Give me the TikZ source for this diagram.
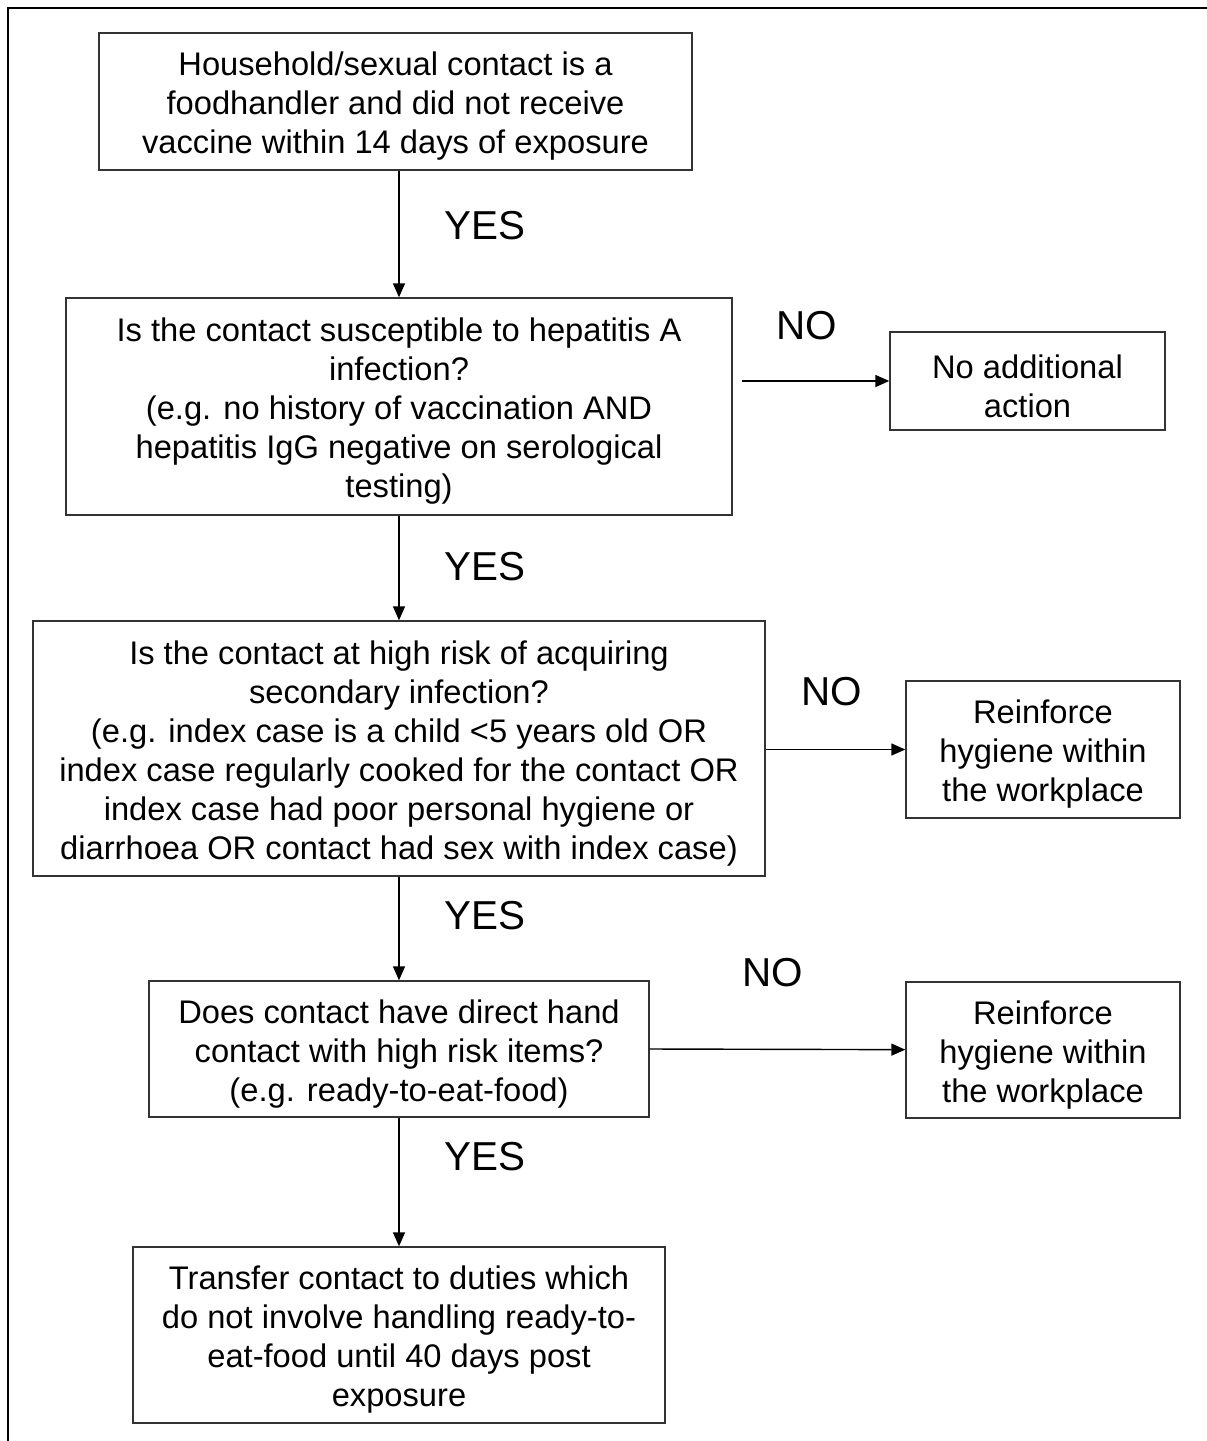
\documentclass[tikz,border=0pt]{standalone}
\usepackage{fontspec}
\setmainfont{Liberation Sans}
\usetikzlibrary{arrows.meta}
\newcommand{\tp}{\rule{0pt}{19pt}}
\begin{document}
\begin{tikzpicture}[x=0.02cm, y=-0.02cm, >={Triangle[length=0.28cm, width=0.24cm]}, stp/.style={draw=black!80, line width=0.8pt, align=center, inner sep=0pt, font=\fontsize{18.6}{22.2}\selectfont}, ans/.style={font=\fontsize{23}{27}\selectfont}, every edge/.style={draw, line width=0.8pt}]
		\useasboundingbox (0,0) rectangle (1207,1441);
		\draw[line width=1.3pt] (8,1441) -- (8,8) -- (1207,8);
	
		\node[stp, minimum width=11.86cm, minimum height=2.74cm] (Q0) at (395.5,101.5) {\tp Household/sexual contact is a\\ foodhandler and did not receive\\ vaccine within 14 days of exposure};
		\node[stp, minimum width=13.32cm, minimum height=4.34cm] (Q1) at (399,406.5) {\tp Is the contact susceptible to hepatitis A\\ infection?\\ (e.g. no history of vaccination AND\\ hepatitis IgG negative on serological\\ testing)} edge[<-] (Q0.south -| Q1.north);
		\node[stp, minimum width=14.64cm, minimum height=5.1cm] (Q2) at (399,748.5) {\tp Is the contact at high risk of acquiring\\ secondary infection?\\ (e.g. index case is a child <5 years old OR\\ index case regularly cooked for the contact OR\\ index case had poor personal hygiene or\\ diarrhoea OR contact had sex with index case)} edge[<-] (Q1);
		\node[stp, minimum width=10cm, minimum height=2.72cm] (Q3) at (399,1049) {\tp Does contact have direct hand\\ contact with high risk items?\\ (e.g. ready-to-eat-food)} edge[<-] (Q2);
		\node[stp, minimum width=10.64cm, minimum height=3.52cm] (T) at (399,1335) {\tp Transfer contact to duties which\\ do not involve handling ready-to-\\ eat-food until 40 days post\\ exposure} edge[<-] (Q3);
	
		\node[stp, minimum width=5.5cm, minimum height=1.96cm] (N0) at (1027.5,381) {\tp No additional\\ action} edge[<-] ([xshift=0.18cm]Q1.east |- N0.west);
		\node[stp, minimum width=5.48cm, minimum height=2.74cm] (N1) at (1043,749.5) {\tp Reinforce\\ hygiene within\\ the workplace} edge[<-] (Q2.east |- N1.west);
		\node[stp, minimum width=5.48cm, minimum height=2.72cm] (N2) at (1043,1050) {\tp Reinforce\\ hygiene within\\ the workplace} edge[<-] (Q3.east);
	
		\node[ans] (Y0) at (485,226) {YES};
		\node[ans] (Y1) at (485,567) {YES};
		\node[ans] (Y2) at (485,916) {YES};
		\node[ans] (Y3) at (485,1157) {YES};
		\node[ans] (M0) at (807,326) {NO};
		\node[ans] (M1) at (832,692) {NO};
		\node[ans] (M2) at (773,973) {NO};
	\end{tikzpicture}
\end{document}
